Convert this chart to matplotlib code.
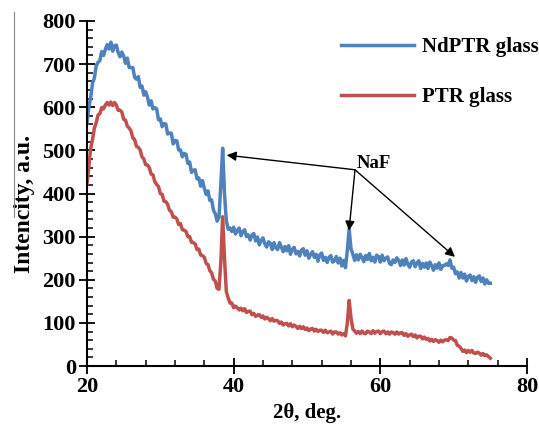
import numpy as np
import matplotlib.pyplot as plt
from matplotlib.ticker import MultipleLocator
from matplotlib.lines import Line2D

plt.rcParams['font.family'] = ['Liberation Serif', 'DejaVu Serif']
plt.rcParams['font.weight'] = 'bold'

# XRD scans, 20-75 deg in 0.25 deg steps
scan_start, scan_stop = 20, 75

ndptr = [
    564, 600, 622, 656,  667, 696, 704, 708,  729, 720, 734, 745,  735, 751, 730, 743,
    744, 727, 717, 728,  719, 702, 714, 692,  692, 692, 669, 665,  671, 646, 649, 628,
    636, 623, 605, 615,  596, 599, 596, 571,  573, 555, 562, 561,  538, 540, 540, 515,
    523, 522, 501, 501,  485, 493, 491, 470,  473, 449, 454, 455,  434, 436, 417, 430,
    412, 398, 406, 384,  385, 361, 353, 336,  345, 420, 505, 400,  337, 317, 320, 312,
    322, 306, 314, 320,  302, 312, 316, 300,  304, 292, 304, 307,  290, 299, 281, 291,
    297, 283, 276, 288,  285, 270, 286, 274,  270, 286, 276, 265,  277, 267, 279, 259,
    271, 275, 260, 266,  255, 269, 272, 257,  267, 250, 259, 265,  252, 259, 243, 258,
    262, 245, 252, 240,  252, 256, 241, 244,  254, 239, 250, 232,  245, 228, 268, 318,
    272, 259, 245, 258,  246, 259, 252, 242,  256, 247, 261, 244,  252, 241, 257, 254,
    241, 257, 244, 250,  253, 238, 235, 246,  240, 251, 245, 233,  246, 234, 249, 236,
    229, 241, 244, 230,  239, 244, 226, 238,  229, 239, 226, 241,  233, 222, 235, 227,
    239, 224, 233, 233,  237, 233, 246, 227,  229, 214, 218, 204,  217, 204, 213, 197,
    208, 211, 198, 207,  194, 206, 209, 196,  204, 190, 200, 192,  192,
]

ptr = [
    422, 462, 504, 525,  551, 564, 582, 585,  599, 596, 605, 611,  605, 612, 604, 611,
    605, 593, 593, 589,  572, 570, 556, 552,  545, 529, 525, 509,  507, 501, 485, 480,
    467, 466, 460, 445,  443, 427, 421, 416,  400, 398, 382, 381,  375, 361, 358, 345,
    345, 341, 328, 330,  316, 315, 312, 300,  300, 287, 286, 283,  270, 271, 257, 256,
    252, 238, 235, 221,  216, 201, 197, 180,  178, 240, 346, 250,  172, 158, 146, 146,
    135, 139, 135, 130,  134, 128, 133, 124,  127, 127, 119, 122,  115, 118, 119, 113,
    116, 109, 113, 110,  105, 110, 104, 106,  105, 99, 102, 95,  98, 99, 93, 98,
    91, 95, 92, 87,  92, 87, 91, 85,  88, 82, 86, 87,  81, 85, 80, 83,
    83, 78, 83, 77,  79, 81, 74, 79,  79, 74, 77, 72,  75, 70, 100, 152,
    112, 86, 81, 76,  80, 75, 81, 76,  75, 81, 79, 75,  82, 76, 80, 81,
    75, 80, 81, 75,  79, 74, 79, 77,  74, 79, 74, 77,  77, 71, 75, 69,
    72, 74, 68, 72,  65, 69, 69, 63,  67, 62, 64, 58,  62, 57, 61, 59,
    55, 60, 56, 60,  61, 59, 66, 65,  60, 59, 48, 46,  41, 34, 37, 31,
    36, 32, 36, 30,  29, 32, 30, 25,  29, 24, 26, 22,  18,
]

theta = np.linspace(scan_start, scan_stop, len(ndptr))

# NaF reflections marked with arrows
naf_label = (56.55, 455)
naf_peaks = [(39.05, 489), (55.73, 314), (70.18, 253)]

fig = plt.figure(figsize=(5.39, 4.25), dpi=100)
ax = fig.add_axes([0.1614, 0.1388, 0.8163, 0.8118])

ax.plot(theta, ndptr, color='#4F81BD', lw=2.5, label='NdPTR glass')
ax.plot(theta, ptr, color='#C0504D', lw=2.5, label='PTR glass')

ax.set_xlim(20, 80)
ax.set_ylim(0, 800)
ax.xaxis.set_major_locator(MultipleLocator(20))
ax.xaxis.set_minor_locator(MultipleLocator(4))
ax.yaxis.set_major_locator(MultipleLocator(100))
ax.yaxis.set_minor_locator(MultipleLocator(20))
ax.tick_params(which='major', direction='inout', length=12, width=1.3,
               labelsize=16, pad=2)
ax.tick_params(which='minor', direction='in', length=4, width=1.1)
for s in ['top', 'right']:
    ax.spines[s].set_visible(False)
for s in ['left', 'bottom']:
    ax.spines[s].set_linewidth(1.5)

ax.set_xlabel('2θ, deg.', fontsize=15, fontweight='bold', labelpad=4)
ax.set_ylabel('Intencity, a.u.', fontsize=17, fontweight='bold')
ax.yaxis.set_label_coords(-0.118, 0.47)

ax.text(naf_label[0] + 0.2, 459, 'NaF', fontsize=13.5,
        fontweight='bold', ha='left', va='baseline')
for px, py in naf_peaks:
    ax.annotate('', xy=(px, py), xytext=naf_label,
                arrowprops=dict(arrowstyle='-|>', color='black', lw=1,
                                mutation_scale=14, shrinkA=0, shrinkB=0))

ax.legend(loc='upper left', bbox_to_anchor=(0.633, 0.913),
          bbox_transform=fig.transFigure, frameon=False, fontsize=15,
          handlelength=3.5, handletextpad=0.4, labelspacing=1.45,
          borderpad=0, borderaxespad=0)

# thin frame edge at the far left
fig.add_artist(Line2D([14 / 539, 14 / 539], [1 - 12 / 425, 1 - 217 / 425],
                      color='#888888', lw=0.8))

fig.savefig('out.png', dpi=100)
